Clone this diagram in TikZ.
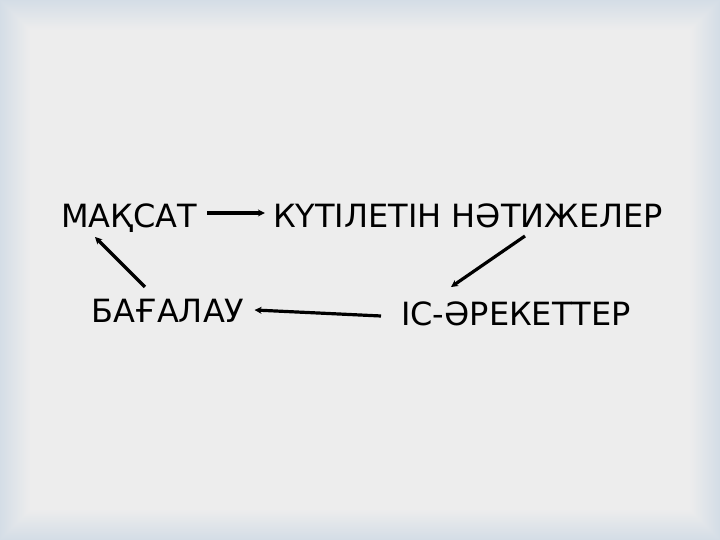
\documentclass[tikz,border=0pt]{standalone}
\usepackage{fontspec}
\setmainfont{DejaVu Sans}
\usetikzlibrary{arrows.meta}
\definecolor{edgeblue}{RGB}{212,221,230}
\definecolor{paper}{RGB}{237,237,237}
\begin{document}
\begin{tikzpicture}[
    x=1pt, y=1pt,
    word/.style={inner sep=0pt, anchor=base, font=\fontsize{32}{38}\selectfont},
    flow/.style={line width=3.2pt, -{Stealth[length=7pt,width=7pt]}}
]
% Background with soft bluish edge
\useasboundingbox (0,0) rectangle (720,540);
\fill[edgeblue] (0,0) rectangle (720,540);
\foreach \i in {0,...,30} {
    \pgfmathsetmacro{\mix}{\i*100/30}
    \fill[paper!\mix!edgeblue] (\i*1,\i*1) rectangle (720-\i*1,540-\i*1);
}

% Cycle words
\node[word] (goal) at (129,312) {МАҚСАТ};
\node[word] (result) at (468,312) {КҮТІЛЕТІН НӘТИЖЕЛЕР};
\node[word] (action) at (516,214) {ІС-ӘРЕКЕТТЕР};
\node[word] (assess) at (168,217) {БАҒАЛАУ};

% Arrows
\draw[flow] ([shift={(10,15)}]goal.base east) -- ([shift={(-8,15)}]result.base west);
\draw[flow] ([shift={(57,-8)}]result.base) -- ([shift={(-65,39)}]action.base);
\draw[flow] ([shift={(-20,10)}]action.base west) -- ([shift={(10,13)}]assess.base east);
\draw[flow] ([shift={(-23,36)}]assess.base) -- ([shift={(-34,-9)}]goal.base);
\end{tikzpicture}
\end{document}
